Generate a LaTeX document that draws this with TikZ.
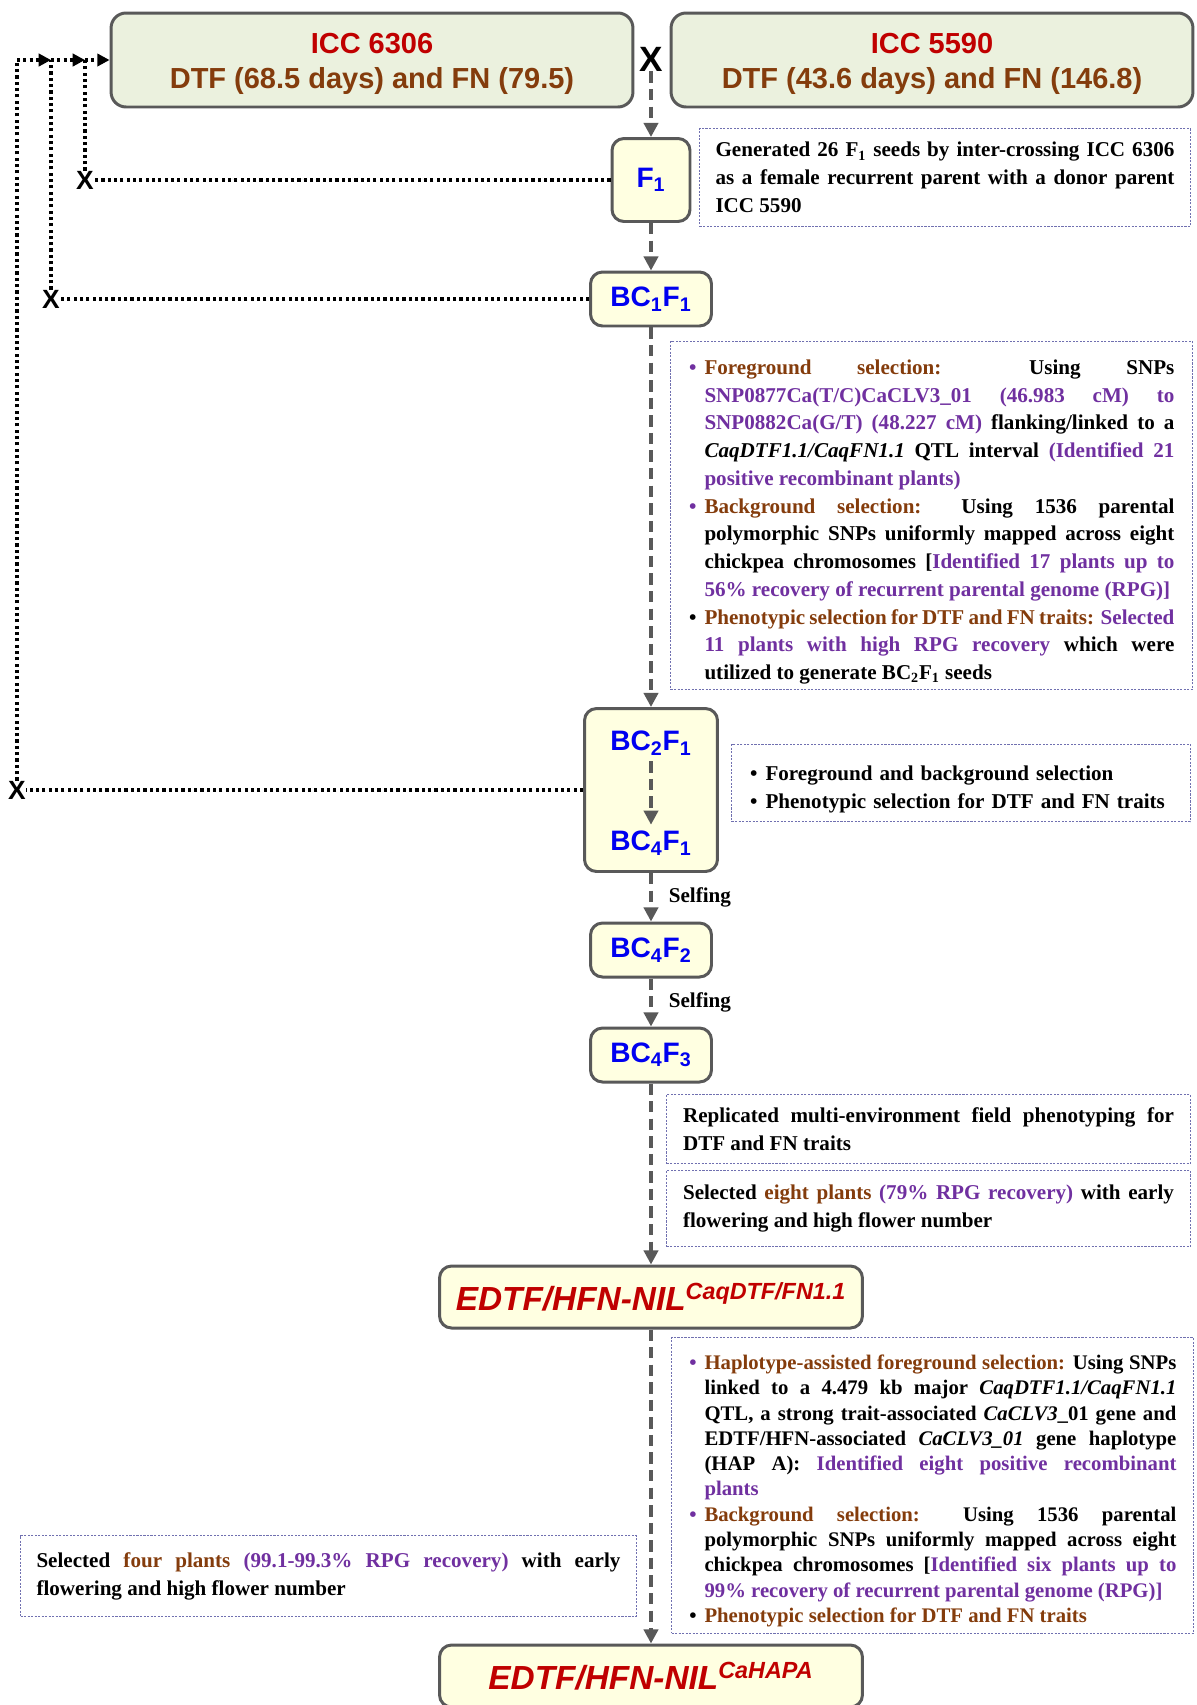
\documentclass[tikz,border=0pt]{standalone}
\usepackage{fontspec}
\setmainfont{Liberation Serif}
\newfontfamily\headfont{Liberation Sans}
\usetikzlibrary{arrows.meta}

\definecolor{iccred}{HTML}{C00000}
\definecolor{iccbrown}{HTML}{843C0C}
\definecolor{parentfill}{HTML}{EBF1DE}
\definecolor{genfill}{HTML}{FFFFE1}
\definecolor{boxline}{HTML}{595959}
\definecolor{genblue}{HTML}{0000F0}
\definecolor{notepurple}{HTML}{7030A0}
\definecolor{notebrown}{HTML}{843C0C}
\definecolor{noteline}{HTML}{7070B0}

\newcommand{\brn}[1]{\textcolor{notebrown}{#1}}
\newcommand{\prp}[1]{\textcolor{notepurple}{#1}}
\newcommand{\nitem}[1]{\par\hangindent=0.32cm\hangafter=0\noindent\makebox[0pt][r]{\textcolor{#1}{\textbullet}\hspace{0.16cm}}}

\tikzset{
	parentbox/.style={draw=boxline, line width=1.7pt, rounded corners=0.3cm, fill=parentfill, minimum width=10.44cm, minimum height=1.88cm, align=center, font=\headfont\bfseries\fontsize{16.5}{19}\selectfont},
	genbox/.style={draw=boxline, line width=1.7pt, rounded corners=0.24cm, fill=genfill, text=genblue, font=\headfont\bfseries\fontsize{16}{19}\selectfont, minimum width=2.42cm, minimum height=1.08cm},
	nilbox/.style={genbox, text=iccred, font=\headfont\bfseries\itshape\fontsize{19}{22}\selectfont, minimum width=8.46cm, minimum height=1.24cm},
	notebox/.style={draw=noteline, line width=0.6pt, dash pattern=on 1.2pt off 0.8pt, anchor=north west, align=justify, inner ysep=0pt, font=\bfseries\fontsize{12}{15.8}\selectfont, execute at begin node={\hyphenpenalty=10000\tolerance=9999\emergencystretch=2em}},
	flowarrow/.style={draw=boxline, line width=2.3pt, dash pattern=on 6.5pt off 3.5pt, -{Triangle[length=8pt,width=8pt]}},
	fbline/.style={line width=1.9pt, dash pattern=on 1.8pt off 1.8pt},
	fbarrow/.style={fbline, -{Triangle[length=7pt,width=7pt]}},
	crossmark/.style={font=\headfont\bfseries\fontsize{15}{15}\selectfont, inner sep=0pt},
	selflabel/.style={font=\bfseries\fontsize{12}{14}\selectfont, right=0.2cm}
}

\begin{document}
\begin{tikzpicture}[x=0.02cm,y=-0.02cm]
	\path[fill=white] (0,0) rectangle (1197,1705);
	\useasboundingbox (0,0) rectangle (1197,1705);

		%Parents
		\node[parentbox] (icc1) at (372,60) {\rule{0pt}{16pt}\textcolor{iccred}{ICC 6306}\\[1pt]\textcolor{iccbrown}{DTF (68.5 days) and FN (79.5)}};
		\node[parentbox] (icc2) at (932,60) {\rule{0pt}{16pt}\textcolor{iccred}{ICC 5590}\\[1pt]\textcolor{iccbrown}{DTF (43.6 days) and FN (146.8)}};
		\node[crossmark, font=\headfont\bfseries\fontsize{20}{20}\selectfont] (xmain) at (651,59) {X};

		%Generations
		\node[genbox, minimum width=1.56cm, minimum height=1.66cm] (f1) at (651,180) {F\textsubscript{1}};
		\node[genbox] (bc1f1) at (651,299) {BC\textsubscript{1}F\textsubscript{1}};
		\node[genbox, minimum width=2.66cm, minimum height=3.26cm] (bcbig) at (651,790) {};
		\node[text=genblue, font=\headfont\bfseries\fontsize{16}{19}\selectfont] (bc2f1) at (651,743) {BC\textsubscript{2}F\textsubscript{1}};
		\node[text=genblue, font=\headfont\bfseries\fontsize{16}{19}\selectfont] (bc4f1) at (651,843) {BC\textsubscript{4}F\textsubscript{1}};
		\node[genbox] (bc4f2) at (651,950) {BC\textsubscript{4}F\textsubscript{2}};
		\node[genbox] (bc4f3) at (651,1055) {BC\textsubscript{4}F\textsubscript{3}};
		\node[nilbox] (nil1) at (651,1297) {EDTF/HFN-NIL\textsuperscript{CaqDTF/FN1.1}};
		\node[nilbox] (nil2) at (651,1676) {EDTF/HFN-NIL\textsuperscript{CaHAPA}};

		\draw[flowarrow] (xmain.south) -- (f1.north);
		\draw[flowarrow] (f1) -- (bc1f1);
		\draw[flowarrow] (bc1f1) -- (bcbig);
		\draw[flowarrow] (bc2f1) -- (bc4f1);
		\draw[flowarrow] (bcbig) -- node[selflabel] {Selfing} (bc4f2);
		\draw[flowarrow] (bc4f2) -- node[selflabel] {Selfing} (bc4f3);
		\draw[flowarrow] (bc4f3) -- (nil1);
		\draw[flowarrow] (nil1) -- (nil2);

		%Backcrossing
		\node[crossmark] (xa) at (85,180) {X};
		\node[crossmark] (xb) at (51,299) {X};
		\node[crossmark] (xc) at (17,790) {X};
		\coordinate (ja) at (85,60);
		\coordinate (jb) at (51,60);
		\coordinate (jc) at (17,60);
		\draw[fbline] (f1) -- (xa);
		\draw[fbline] (bc1f1) -- (xb);
		\draw[fbline] (bcbig) -- (xc);
		\draw[fbline] (xa) -- (ja);
		\draw[fbline] (xb) -- (jb);
		\draw[fbline] (xc) -- (jc);
		\draw[fbarrow] (jc) -- (jb);
		\draw[fbarrow] (jb) -- (ja);
		\draw[fbarrow] (ja) -- (icc1.west);

		%Notes
		\node[notebox, text width=9.18cm, inner xsep=0.32cm, minimum height=1.96cm] (n1) at (699,128) {Generated 26 F\textsubscript{1} seeds by inter-crossing ICC 6306\linebreak as a female recurrent parent with a donor parent\linebreak ICC 5590};
		\node[notebox, text width=9.72cm, inner xsep=0.36cm, minimum height=6.96cm] (n2) at (670,341) {%
			\nitem{notepurple}\brn{Foreground selection:} Using SNPs\linebreak \prp{SNP0877Ca(T/C)CaCLV3\_01 (46.983 cM) to\linebreak SNP0882Ca(G/T) (48.227 cM)} flanking/linked to a\linebreak \textit{CaqDTF1.1/CaqFN1.1} QTL interval \prp{(Identified 21\linebreak positive recombinant plants)}
			\nitem{notepurple}\brn{Background selection:} Using 1536 parental\linebreak polymorphic SNPs uniformly mapped across eight\linebreak chickpea chromosomes [\prp{Identified 17 plants up to\linebreak 56\% recovery of recurrent parental genome (RPG)]}
			\nitem{black}\brn{Phenotypic selection for DTF and FN traits:} \prp{Selected\linebreak 11 plants with high RPG recovery} which were\linebreak utilized to generate BC\textsubscript{2}F\textsubscript{1} seeds\par};
		\node[notebox, text width=8.46cm, inner xsep=0.36cm, minimum height=1.54cm, align=left] (n3) at (731,744) {%
			\nitem{black}Foreground and background selection
			\nitem{black}Phenotypic selection for DTF and FN traits\par};
		\node[notebox, text width=9.82cm, inner xsep=0.33cm, minimum height=1.38cm] (n4) at (666,1094) {Replicated multi-environment field phenotyping for\linebreak DTF and FN traits};
		\node[notebox, text width=9.82cm, inner xsep=0.33cm, minimum height=1.52cm] (n5) at (666,1170) {Selected \brn{eight plants} \prp{(79\% RPG recovery)} with early\linebreak flowering and high flower number};
		\node[notebox, text width=9.76cm, inner xsep=0.34cm, minimum height=5.92cm, font=\bfseries\fontsize{11.8}{14.4}\selectfont] (n6) at (671,1337) {%
			\nitem{notepurple}\brn{Haplotype-assisted foreground selection:} Using SNPs\linebreak linked to a 4.479 kb major \textit{CaqDTF1.1/CaqFN1.1}\linebreak QTL, a strong trait-associated \textit{CaCLV3}\_01 gene and\linebreak EDTF/HFN-associated \textit{CaCLV3\_01} gene haplotype\linebreak (HAP A): \prp{Identified eight positive recombinant\linebreak plants}
			\nitem{notepurple}\brn{Background selection:} Using 1536 parental\linebreak polymorphic SNPs uniformly mapped across eight\linebreak chickpea chromosomes [\prp{Identified six plants up to\linebreak 99\% recovery of recurrent parental genome (RPG)]}
			\nitem{black}\brn{Phenotypic selection for DTF and FN traits}\par};
		\node[notebox, text width=11.68cm, inner xsep=0.32cm, minimum height=1.62cm] (n7) at (20,1535) {Selected \brn{four plants} \prp{(99.1-99.3\% RPG recovery)} with early\linebreak flowering and high flower number};
\end{tikzpicture}
\end{document}
